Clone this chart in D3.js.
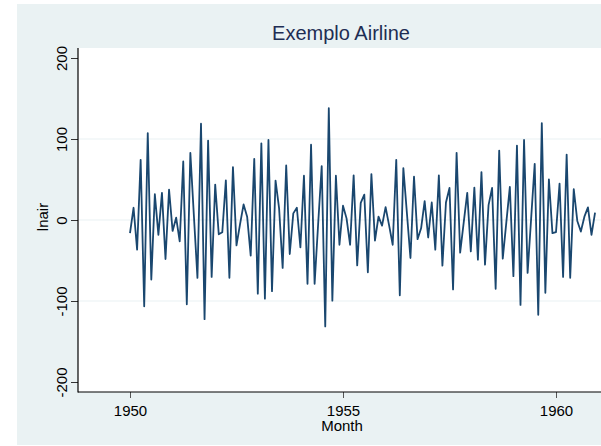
<!DOCTYPE html>
<html>
<head>
<meta charset="utf-8">
<script src="https://cdn.jsdelivr.net/npm/d3@7"></script>
<style>
  html, body { margin: 0; padding: 0; background: #fff; }
  svg { display: block; font-family: "Liberation Sans", Arial, sans-serif; }
</style>
</head>
<body>
<div id="chart"></div>
<script>
// monthly values, 1950m1 .. 1960m12
const startYear = 1950;
const lnair = [
  -16.3, 15.1, -36.7, 74.3, -106.5, 107.3, -73.5, 31.8, -18.4, 33.5, -48.2, 37.6,
  -13.5, 2.9, -26.5, 72.2, -104, 82.9, 5, -71.4, 118.8, -122.4, 98, -70.2,
  43.7, -17.6, -15.1, 49, -71.4, 65.3, -31.4, -5, 19.2, 4.1, -44, 75.5,
  -91, 94.7, -97.1, 98.8, -87.8, 48.6, 14.3, -59.2, 67.3, -42, 8.2, 15.1,
  -33.9, 54.7, -78.8, 93, -78.8, -5, 66.5, -131.4, 138, -99.6, 54.7, -30.6,
  17.6, 2, -30.6, 55.1, -56, 21.2, 31.4, -64.5, 56.7, -25.3, 4.1, -6.9,
  15.9, -7, -30.6, 74.3, -93, 64.1, 8.6, -46.9, 53.5, -23.7, -10.2, 23.3,
  -21.6, 21.6, -36.7, 55.1, -56.3, 21.6, 39.6, -85.7, 82.9, -40.4, -3.3, 33.5,
  -38.8, 40, -49, 59.2, -55.1, 18.4, 39.6, -84.9, 85.7, -47.8, -3.3, 40.8,
  -69.4, 91.8, -104.9, 98.8, -65.3, 2, 69.4, -117.1, 119.6, -89.8, 50.2, -16.3,
  -15.1, 44.9, -70.2, 80.8, -71.4, 38, -1.2, -14.3, 4.1, 15.5, -18.4, 9.0
];
const xTicks = [1950, 1955, 1960];
const yTicks = [-200, -100, 0, 100, 200];
const gridTicks = [-100, 0, 100];

const width = 601, height = 446;
const plot = { left: 78, top: 48, right: 601, bottom: 392 };

const svg = d3.select("#chart").append("svg")
  .attr("width", width)
  .attr("height", height);

// graph background (Stata s2color style)
svg.append("rect")
  .attr("x", 17).attr("y", 4)
  .attr("width", width - 17).attr("height", 441)
  .attr("fill", "#eaf2f3");

svg.append("rect")
  .attr("x", plot.left).attr("y", plot.top)
  .attr("width", plot.right - plot.left).attr("height", plot.bottom - plot.top)
  .attr("fill", "#fff");

const x = d3.scaleLinear().domain([1950, 1960]).range([130, 556]);
const y = d3.scaleLinear().domain([-200, 200]).range([382, 58]);

// gridlines
svg.append("g")
  .selectAll("line")
  .data(gridTicks)
  .join("line")
  .attr("x1", plot.left).attr("x2", plot.right)
  .attr("y1", d => y(d)).attr("y2", d => y(d))
  .attr("stroke", "#eaf2f3")
  .attr("stroke-width", 1.2);

// the series
const data = lnair.map((v, i) => ({ t: startYear + i / 12, v }));
svg.append("path")
  .datum(data)
  .attr("fill", "none")
  .attr("stroke", "#1a476f")
  .attr("stroke-width", 1.8)
  .attr("stroke-linejoin", "round")
  .attr("d", d3.line().x(d => x(d.t)).y(d => y(d.v)));

// y axis
const yAxis = svg.append("g")
  .attr("transform", `translate(${plot.left},0)`)
  .call(d3.axisLeft(y).tickValues(yTicks).tickSize(7).tickFormat(d3.format("d")));
yAxis.select(".domain").remove();
yAxis.selectAll(".tick line").attr("stroke", "#333");
yAxis.selectAll(".tick text")
  .attr("transform", "rotate(-90)")
  .attr("x", 0).attr("y", -11).attr("dy", 0)
  .attr("text-anchor", "middle")
  .attr("fill", "#000")
  .attr("font-size", 15)
  .attr("font-family", "Liberation Sans, Arial, sans-serif")
  .text(d => d < 0 ? "-" + Math.abs(d) : d);

// x axis
const xAxis = svg.append("g")
  .attr("transform", `translate(0,${plot.bottom})`)
  .call(d3.axisBottom(x).tickValues(xTicks).tickSize(6).tickPadding(7).tickFormat(d3.format("d")));
xAxis.select(".domain").remove();
xAxis.selectAll(".tick line").attr("stroke", "#555");
xAxis.selectAll(".tick text")
  .attr("fill", "#000")
  .attr("font-size", 15)
  .attr("font-family", "Liberation Sans, Arial, sans-serif");

// axis lines
svg.append("line")
  .attr("x1", plot.left).attr("x2", plot.left)
  .attr("y1", plot.top).attr("y2", plot.bottom + 0.5)
  .attr("stroke", "#000").attr("stroke-width", 1.2);
svg.append("line")
  .attr("x1", plot.left).attr("x2", plot.right)
  .attr("y1", plot.bottom).attr("y2", plot.bottom)
  .attr("stroke", "#000").attr("stroke-width", 1.2);

// titles
svg.append("text")
  .attr("x", 341).attr("y", 40)
  .attr("text-anchor", "middle")
  .attr("font-size", 20)
  .attr("fill", "#1e2d53")
  .text("Exemplo Airline");

svg.append("text")
  .attr("x", 342).attr("y", 431)
  .attr("text-anchor", "middle")
  .attr("font-size", 15)
  .attr("fill", "#000")
  .text("Month");

svg.append("text")
  .attr("transform", "translate(48,217) rotate(-90)")
  .attr("text-anchor", "middle")
  .attr("font-size", 15)
  .attr("fill", "#000")
  .text("lnair");
</script>
</body>
</html>
